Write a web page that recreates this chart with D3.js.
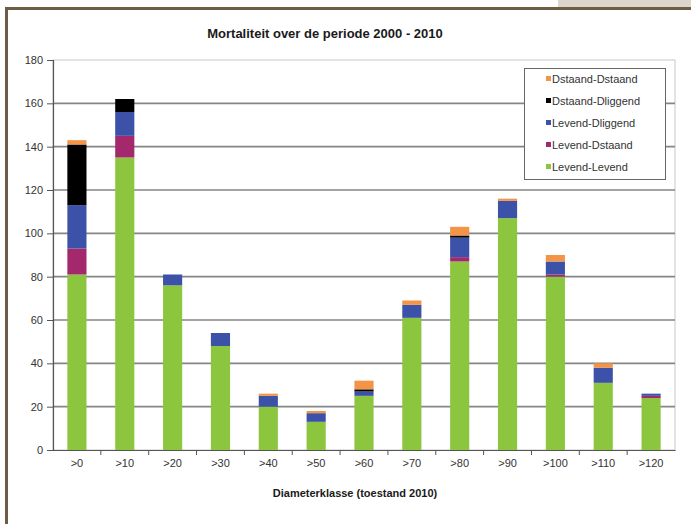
<!DOCTYPE html>
<html>
<head>
<meta charset="utf-8">
<script src="https://cdn.jsdelivr.net/npm/d3@7"></script>
<style>
  html, body { margin: 0; padding: 0; background: #ffffff; }
  svg { display: block; font-family: "Liberation Sans", Arial, sans-serif; }
</style>
</head>
<body>
<svg id="chart" width="691" height="524"></svg>
<script>
// Diameter classes (state in 2010)
const categories = [">0", ">10", ">20", ">30", ">40", ">50", ">60", ">70", ">80", ">90", ">100", ">110", ">120"];

// Number of trees per transition class, 2000 -> 2010
const levendLevend   = [81, 135, 76, 48, 20, 13, 25, 61, 87, 107, 80, 31, 24];
const levendDstaand  = [12, 10, 0, 0, 0, 0, 0, 0, 2, 0, 1, 0, 1];
const levendDliggend = [20, 11, 5, 6, 5, 4, 2, 6, 9, 8, 6, 7, 1];
const dstaandDliggend = [28, 6, 0, 0, 0, 0, 1, 0, 1, 0, 0, 0, 0];
const dstaandDstaand = [2, 0, 0, 0, 1, 1, 4, 2, 4, 1, 3, 2, 0];

const seriesNames = ["Levend-Levend", "Levend-Dstaand", "Levend-Dliggend", "Dstaand-Dliggend", "Dstaand-Dstaand"];
const seriesValues = [levendLevend, levendDstaand, levendDliggend, dstaandDliggend, dstaandDstaand];
const seriesColors = ["#8cc63f", "#a3286c", "#3b52a8", "#000000", "#f39447"];

const yTicks = [0, 20, 40, 60, 80, 100, 120, 140, 160, 180];

const svg = d3.select("#chart");

// page frame
svg.append("rect").attr("x", 0).attr("y", 0).attr("width", 691).attr("height", 524).attr("fill", "#ffffff");
svg.append("rect").attr("x", 558).attr("y", 0).attr("width", 133).attr("height", 9).attr("fill", "#dcd6cc");
svg.append("rect").attr("x", 5).attr("y", 7).attr("width", 686).attr("height", 3).attr("fill", "#6e5d44");
svg.append("rect").attr("x", 5).attr("y", 7).attr("width", 3).attr("height", 517).attr("fill", "#6e5d44");

const margin = { left: 53, right: 675, top: 60, bottom: 450 };

const x = d3.scaleBand().domain(categories).range([margin.left, margin.right]).paddingInner(0.6).paddingOuter(0.3);
const xBand = d3.scaleBand().domain(categories).range([margin.left, margin.right]);
const y = d3.scaleLinear().domain([0, 180]).range([margin.bottom, margin.top]);

// plot area border
svg.append("rect")
  .attr("x", margin.left).attr("y", margin.top)
  .attr("width", margin.right - margin.left).attr("height", margin.bottom - margin.top)
  .attr("fill", "none").attr("stroke", "#c8c8c8").attr("stroke-width", 1);

// horizontal gridlines
svg.append("g").selectAll("line")
  .data(yTicks.filter(t => t > 0 && t < 180))
  .join("line")
  .attr("x1", margin.left).attr("x2", margin.right)
  .attr("y1", d => y(d)).attr("y2", d => y(d))
  .attr("stroke", "#858585").attr("stroke-width", 1.7);

// stacked bars
const table = categories.map((c, i) => {
  const row = { cat: c };
  seriesNames.forEach((s, k) => { row[s] = seriesValues[k][i]; });
  return row;
});
const stacked = d3.stack().keys(seriesNames)(table);

svg.append("g").selectAll("g")
  .data(stacked)
  .join("g")
  .attr("fill", (d, k) => seriesColors[k])
  .selectAll("rect")
  .data(d => d)
  .join("rect")
  .attr("x", d => x(d.data.cat))
  .attr("width", x.bandwidth())
  .attr("y", d => y(d[1]))
  .attr("height", d => y(d[0]) - y(d[1]));

// y axis
const yAxis = svg.append("g")
  .attr("transform", `translate(${margin.left},0)`)
  .call(d3.axisLeft(y).tickValues(yTicks).tickSize(6).tickPadding(4));
yAxis.select(".domain").attr("stroke", "#555").attr("stroke-width", 1.2);
yAxis.selectAll(".tick line").attr("stroke", "#555");
yAxis.selectAll(".tick text").attr("font-size", 11).attr("fill", "#333")
  .attr("font-family", "Liberation Sans, Arial, sans-serif");

// x axis: ticks between categories
const xAxis = svg.append("g")
  .attr("transform", `translate(0,${margin.bottom})`)
  .call(d3.axisBottom(xBand).tickSize(0).tickPadding(9));
xAxis.select(".domain").attr("stroke", "#555").attr("stroke-width", 1.2);
xAxis.selectAll(".tick text").attr("font-size", 11).attr("fill", "#333")
  .attr("font-family", "Liberation Sans, Arial, sans-serif");
xAxis.append("g").selectAll("line")
  .data(categories.slice(1))
  .join("line")
  .attr("x1", d => xBand(d)).attr("x2", d => xBand(d))
  .attr("y1", 0).attr("y2", 5)
  .attr("stroke", "#555");

// title
svg.append("text")
  .attr("x", 325).attr("y", 38)
  .attr("text-anchor", "middle")
  .attr("font-size", 13).attr("font-weight", "bold").attr("fill", "#1a1a1a")
  .text("Mortaliteit over de periode 2000 - 2010");

// x axis title
svg.append("text")
  .attr("x", 355).attr("y", 497)
  .attr("text-anchor", "middle")
  .attr("font-size", 11).attr("font-weight", "bold").attr("fill", "#1a1a1a")
  .text("Diameterklasse (toestand 2010)");

// legend (top entry is the last stacked series)
const legend = svg.append("g");
legend.append("rect")
  .attr("x", 524.5).attr("y", 68.5).attr("width", 141).attr("height", 111)
  .attr("fill", "#ffffff").attr("stroke", "#666").attr("stroke-width", 1);
const legendOrder = d3.range(seriesNames.length).reverse();
const items = legend.selectAll("g.item")
  .data(legendOrder)
  .join("g")
  .attr("class", "item")
  .attr("transform", (k, i) => `translate(546,${79 + i * 22})`);
items.append("rect")
  .attr("x", 0).attr("y", -3).attr("width", 5).attr("height", 5)
  .attr("fill", k => seriesColors[k]);
items.append("text")
  .attr("x", 6).attr("y", 4)
  .attr("font-size", 11).attr("fill", "#333")
  .text(k => seriesNames[k]);
</script>
</body>
</html>
